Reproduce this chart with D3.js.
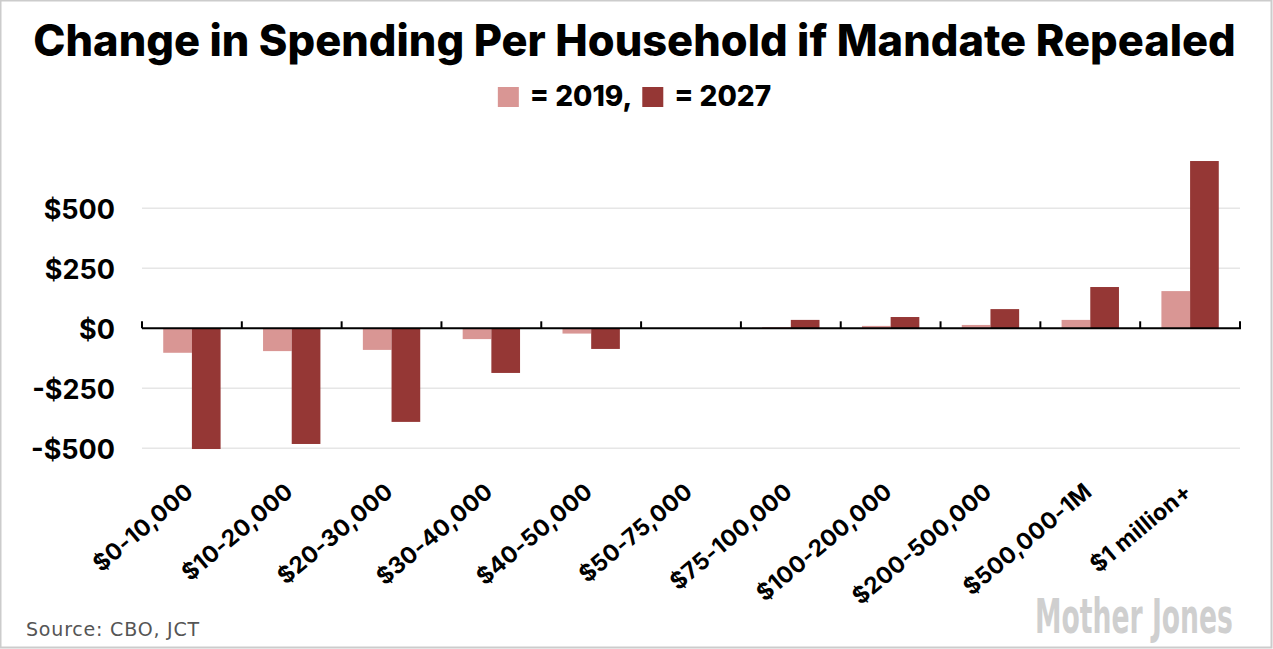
<!DOCTYPE html>
<html>
<head>
<meta charset="utf-8">
<script src="https://cdn.jsdelivr.net/npm/d3@7"></script>
<style>
  body { margin: 0; background: #fff; }
  svg { display: block; }
  .lbl { font-family: Inter, Lato, sans-serif; font-weight: 700; fill: #000; }
</style>
</head>
<body>
<div id="chart"></div>
<script>
// data
var categories = ["$0-10,000", "$10-20,000", "$20-30,000", "$30-40,000", "$40-50,000",
    "$50-75,000", "$75-100,000", "$100-200,000", "$200-500,000", "$500,000-1M", "$1 million+"];
var series = ["2019", "2027"];
var v2019 = [-102, -95, -90, -45, -22, 0, 5, 10, 14, 35, 155];
var v2027 = [-503, -482, -390, -186, -86, 0, 35, 47, 80, 172, 697];
var yTicks = [-500, -250, 0, 250, 500];
var colors = {"2019": "#d99694", "2027": "#953735"};

var W = 1273, H = 649;
var svg = d3.select("#chart").append("svg").attr("width", W).attr("height", H);

// frame
svg.append("rect").attr("x", 0.5).attr("y", 0.5).attr("width", W - 2).attr("height", H - 2)
    .attr("fill", "#fff").attr("stroke", "#cccccc").attr("stroke-width", 2);

var x0 = d3.scaleBand().domain(categories).range([142, 1240]).padding(0);
var x1 = d3.scaleBand().domain(series).range([0, x0.bandwidth()]).paddingInner(0).paddingOuter(0.74);
var y = d3.scaleLinear().domain([-500, 500]).range([448.3, 208.3]);

// title, fitted to the width of the original
var title = svg.append("text").attr("class", "lbl")
    .attr("x", 634.5).attr("y", 56).attr("text-anchor", "middle")
    .style("font-size", "38px").style("font-weight", 800)
    .text("Change in Spending Per Household if Mandate Repealed");
var tw = title.node().getComputedTextLength();
title.style("font-size", (38 * 1203 / tw) + "px");

// legend
var leg = svg.append("g");
var lx = 0;
series.forEach(function(s, i){
    leg.append("rect").attr("x", lx).attr("y", 87).attr("width", 21).attr("height", 20)
        .attr("fill", colors[s]);
    var t = leg.append("text").attr("class", "lbl").attr("x", lx + 32).attr("y", 106)
        .style("font-size", "28px").style("font-weight", 800)
        .text("= " + s + (i < series.length - 1 ? "," : ""));
    lx += 32 + t.node().getComputedTextLength() + 10;
});
var lw = lx - 10;
leg.attr("transform", "translate(" + (634.5 - lw / 2) + ",0)");

// gridlines
svg.append("g").selectAll("line")
    .data(yTicks.filter(function(d){ return d !== 0; }))
    .enter().append("line")
    .attr("x1", 142).attr("x2", 1240)
    .attr("y1", function(d){ return y(d); }).attr("y2", function(d){ return y(d); })
    .attr("stroke", "#e6e6e6").attr("stroke-width", 1.5);

// y axis labels
var yAxis = d3.axisLeft(y).tickValues(yTicks).tickSize(0).tickPadding(27)
    .tickFormat(function(d){ return d < 0 ? "-$" + Math.abs(d) : "$" + d; });
var yg = svg.append("g").attr("transform", "translate(142,0)").call(yAxis);
yg.select(".domain").remove();
yg.selectAll("text").attr("class", "lbl").style("font-size", "27px")
    .attr("dy", "0.36em");

// bars
var rows = categories.map(function(c, i){
    return {cat: c, vals: [{s: "2019", v: v2019[i]}, {s: "2027", v: v2027[i]}]};
});
var groups = svg.append("g").selectAll("g").data(rows).enter().append("g")
    .attr("transform", function(d){ return "translate(" + x0(d.cat) + ",0)"; });
groups.selectAll("rect").data(function(d){ return d.vals; }).enter().append("rect")
    .attr("x", function(d){ return x1(d.s); })
    .attr("width", x1.bandwidth())
    .attr("y", function(d){ return y(Math.max(0, d.v)); })
    .attr("height", function(d){ return Math.abs(y(d.v) - y(0)); })
    .attr("fill", function(d){ return colors[d.s]; });

// zero axis with upward ticks at band edges
var y0 = y(0);
svg.append("line").attr("x1", 142).attr("x2", 1241).attr("y1", y0).attr("y2", y0)
    .attr("stroke", "#000").attr("stroke-width", 2);
var edges = categories.map(function(c){ return x0(c); }).concat([x0.range()[1]]);
svg.append("g").selectAll("line").data(edges).enter().append("line")
    .attr("x1", function(d){ return d; }).attr("x2", function(d){ return d; })
    .attr("y1", y0).attr("y2", y0 - 7)
    .attr("stroke", "#000").attr("stroke-width", 2);

// x labels, rotated
svg.append("g").selectAll("text").data(categories).enter().append("text")
    .attr("class", "lbl").style("font-size", "23px").attr("text-anchor", "end")
    .style("letter-spacing", "0.3px")
    .attr("transform", function(d){
        return "translate(" + (x0(d) + x0.bandwidth() / 2 + 3) + ",494) rotate(-40)";
    })
    .text(function(d){ return d; });

// source
svg.append("text").attr("x", 26).attr("y", 636)
    .style("font-family", "'DejaVu Sans', Verdana, sans-serif").style("font-size", "19px")
    .style("letter-spacing", "0.8px")
    .attr("fill", "#555").text("Source: CBO, JCT");

// logo - squeezed horizontally with a transform so the text box stays inside
var logo = svg.append("text").attr("x", 0).attr("y", 0)
    .style("font-family", "'Liberation Sans Narrow', 'DejaVu Sans Condensed', sans-serif")
    .style("font-weight", 700).style("font-size", "48px")
    .attr("fill", "#cfcfcf")
    .text("Mother Jones");
var logoW = logo.node().getComputedTextLength();
logo.attr("transform", "translate(1035,633) scale(" + (198 / logoW) + ",1)");
</script>
</body>
</html>
